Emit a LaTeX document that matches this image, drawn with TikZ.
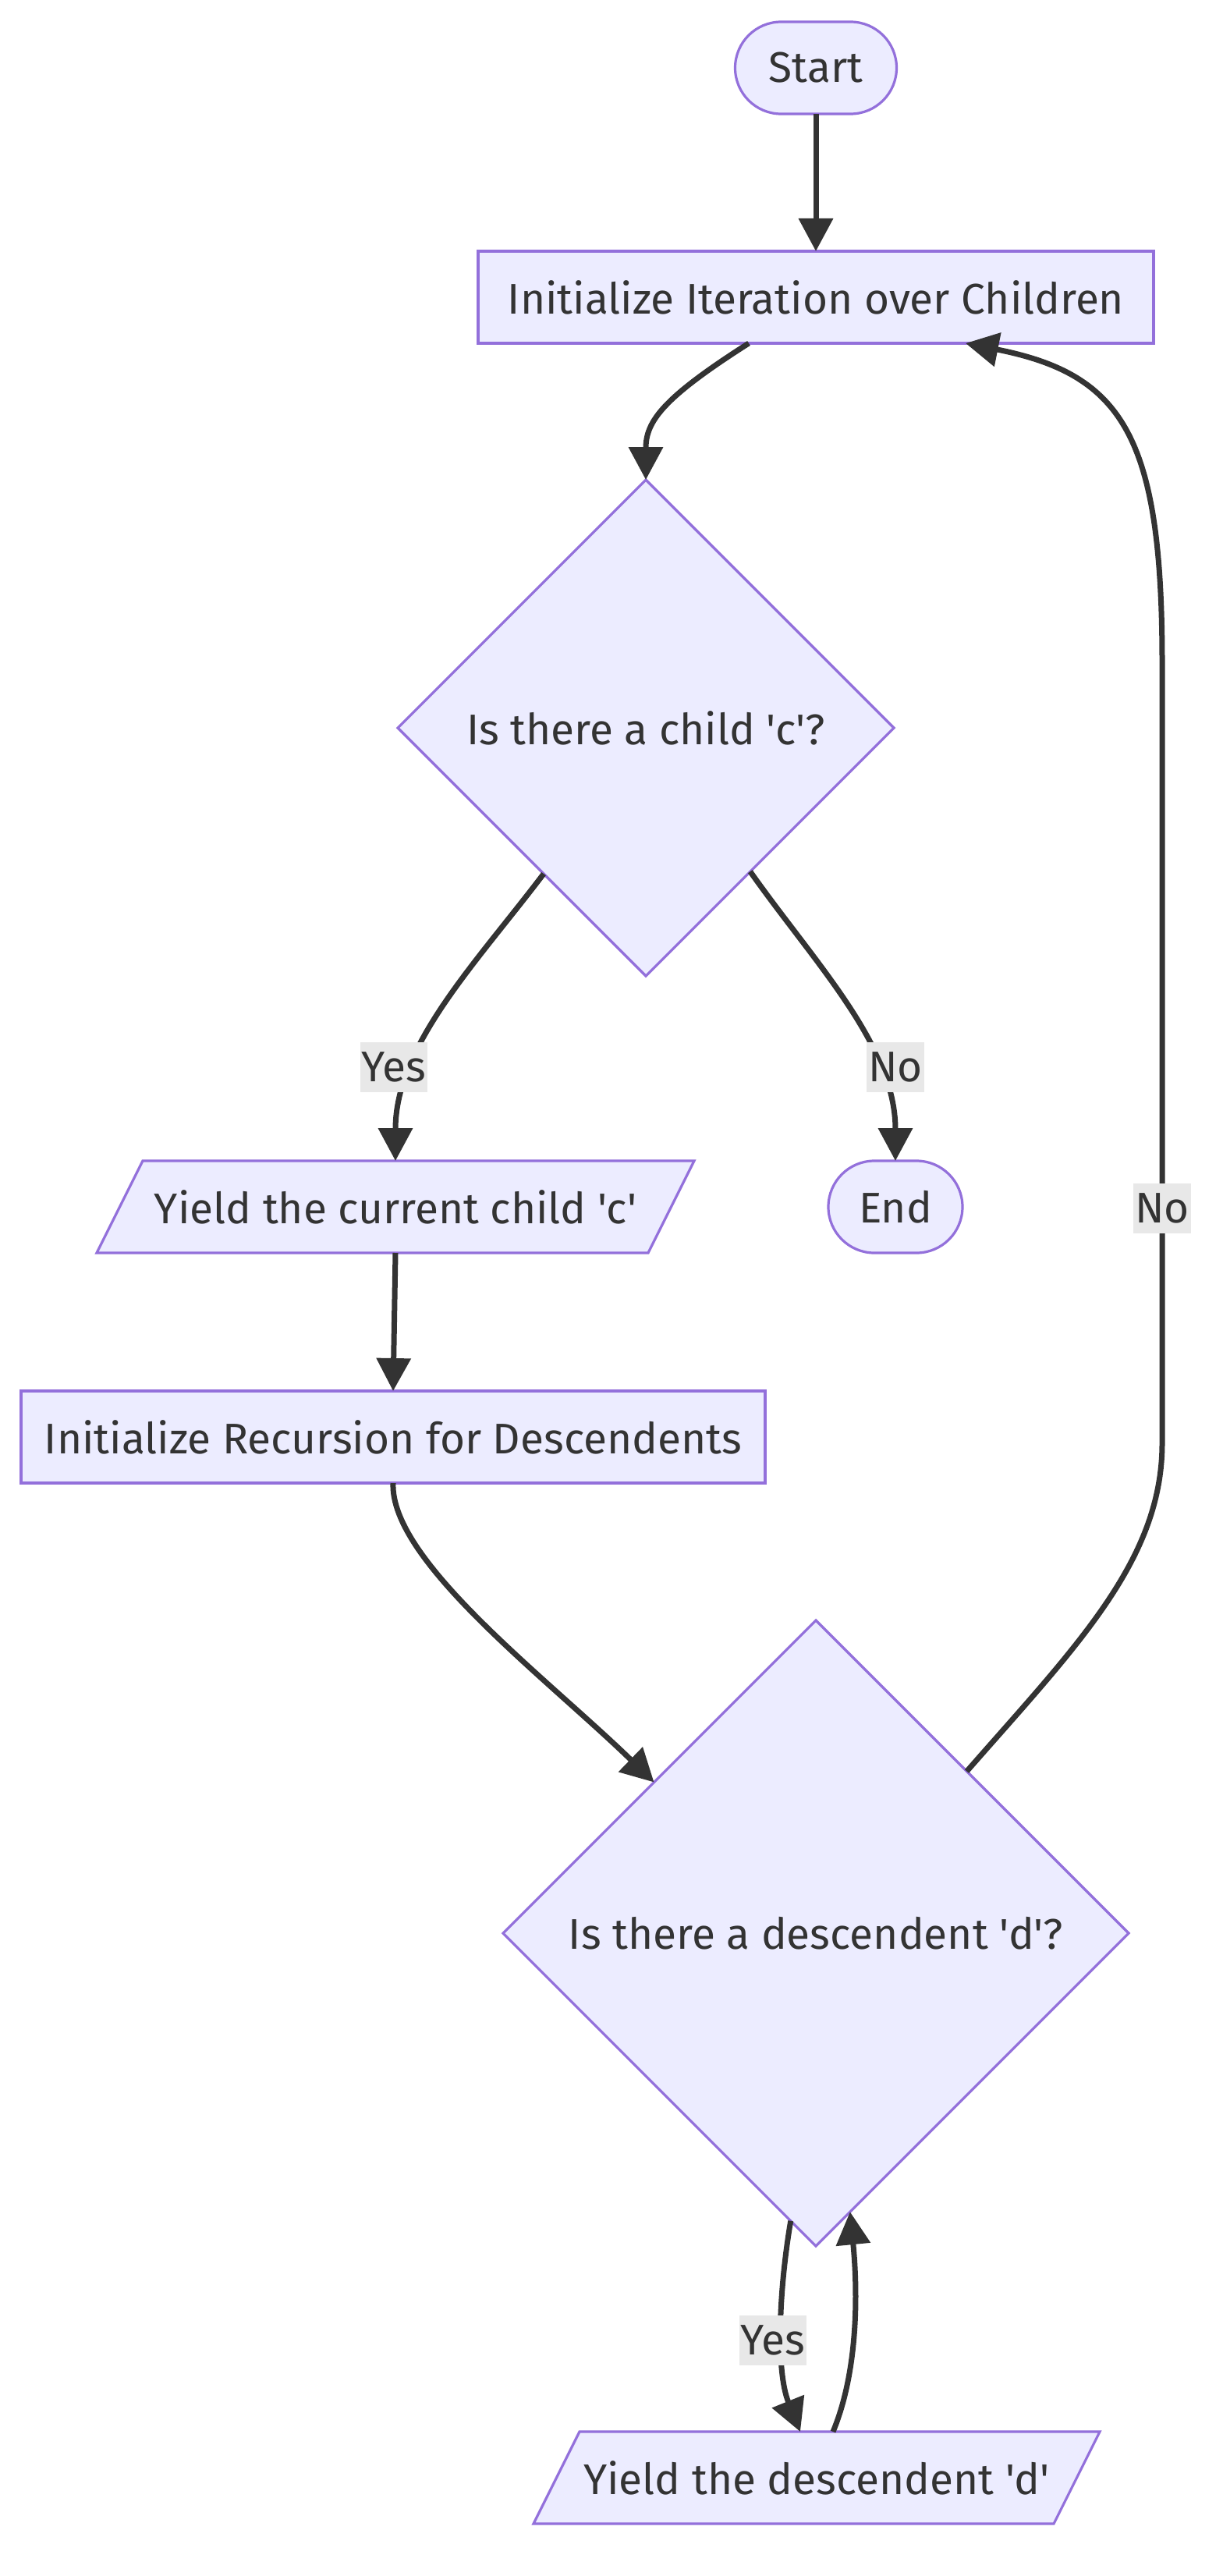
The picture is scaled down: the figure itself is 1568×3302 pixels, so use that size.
\documentclass[tikz,border=0pt]{standalone}
\usepackage{fontspec}
\setmainfont{Fira Sans}[Ligatures=TeXOff]
\usetikzlibrary{shapes.geometric,arrows.meta}

\definecolor{nodefill}{HTML}{ECECFF}
\definecolor{nodeline}{HTML}{9370DB}
\definecolor{ink}{HTML}{333333}
\definecolor{labelbg}{HTML}{E8E8E8}

\pgfdeclarelayer{background}
\pgfsetlayers{background,main}

\begin{document}
\begin{tikzpicture}[x=1pt,y=-1pt,
  outline/.style={draw=nodeline, fill=nodefill, line width=3.2pt},
  base/.style={outline, text=ink,
    font=\fontsize{55}{64}\selectfont, inner sep=0pt, outer sep=0pt},
  box/.style={base, rectangle, minimum height=118pt},
  term/.style={base, rectangle, rounded corners=59pt, minimum height=118pt},
  choice/.style={base, diamond, aspect=1},
  io/.style={base, draw=none, fill=none, rectangle, minimum height=118pt},
  flow/.style={draw=ink, line width=7pt, line cap=butt,
    -{Triangle[length=42pt,width=43pt]}},
  lbl/.style={fill=labelbg, text=ink, font=\fontsize{55}{64}\selectfont,
    inner xsep=2pt, inner ysep=0pt, minimum height=64pt},
]
\begin{pgfonlayer}{background}
\fill[white] (0,0) rectangle (1568,3302);
\end{pgfonlayer}
\useasboundingbox (0,0) rectangle (1568,3302);

% nodes
\node[term, minimum width=207pt] (start) at (1046,87) {Start};
\node[box, minimum width=866pt] (init) at (1046,381) {Initialize Iteration over Children};
\node[choice, minimum width=636pt, minimum height=636pt] (dec1) at (828,933) {Is there a child 'c'?};
\node[io, minimum width=707pt] (child) at (507,1547) {Yield the current child 'c'};
\node[term, minimum width=172pt] (end) at (1148,1547) {End};
\node[box, minimum width=954pt] (initrec) at (504,1842) {Initialize Recursion for Descendents};
\node[choice, minimum width=802pt, minimum height=802pt] (dec2) at (1046,2478) {Is there a descendent 'd'?};
\node[io, minimum width=667pt] (yd) at (1047,3176) {Yield the descendent 'd'};

% slanted outlines of the two output steps
\begin{pgfonlayer}{background}
\foreach \n in {child,yd}
  \draw[outline] ([xshift=-29.5pt]\n.south west) -- ([xshift=-29.5pt]\n.south east)
    -- ([xshift=29.5pt]\n.north east) -- ([xshift=29.5pt]\n.north west) -- cycle;
\end{pgfonlayer}

% connectors
\draw[flow] (start) -- (init);
\draw[flow] ([xshift=-86pt]init.south) .. controls (850,510) and (828,540) .. (dec1.north);
\draw[flow] (dec1.-125.7) .. controls (610,1235) and (507,1340) .. (child.north);
\draw[flow] (dec1.-54.1) .. controls (1045,1235) and (1148,1340) .. (end.north);
\draw[flow] (child.south) -- (initrec.north);
\draw[flow] (initrec.south) .. controls (500,2000) and (700,2150) .. (dec2.137.3);
\draw[flow] (dec2.-95.3) .. controls (998,2940) and (995,3040) .. ([xshift=-21pt]yd.north);
\draw[flow] ([xshift=21pt]yd.north) .. controls (1100,3040) and (1100,2940) .. (dec2.-83.6);
\coordinate (turnlow) at (1490,1850);
\coordinate (turnhigh) at (1490,850);
\draw[flow] (dec2.47.1) .. controls (1380,2110) and (1490,2000) .. (turnlow)
  -- (turnhigh) .. controls (1490,560) and (1440,480) .. ([xshift=192pt]init.south);

% edge labels
\node[lbl] (yes1) at (505,1368) {Yes};
\node[lbl] (no1) at (1148,1368) {No};
\node[lbl] (no2) at (1490,1549) {No};
\node[lbl] (yes2) at (991,3000) {Yes};
\end{tikzpicture}
\end{document}
